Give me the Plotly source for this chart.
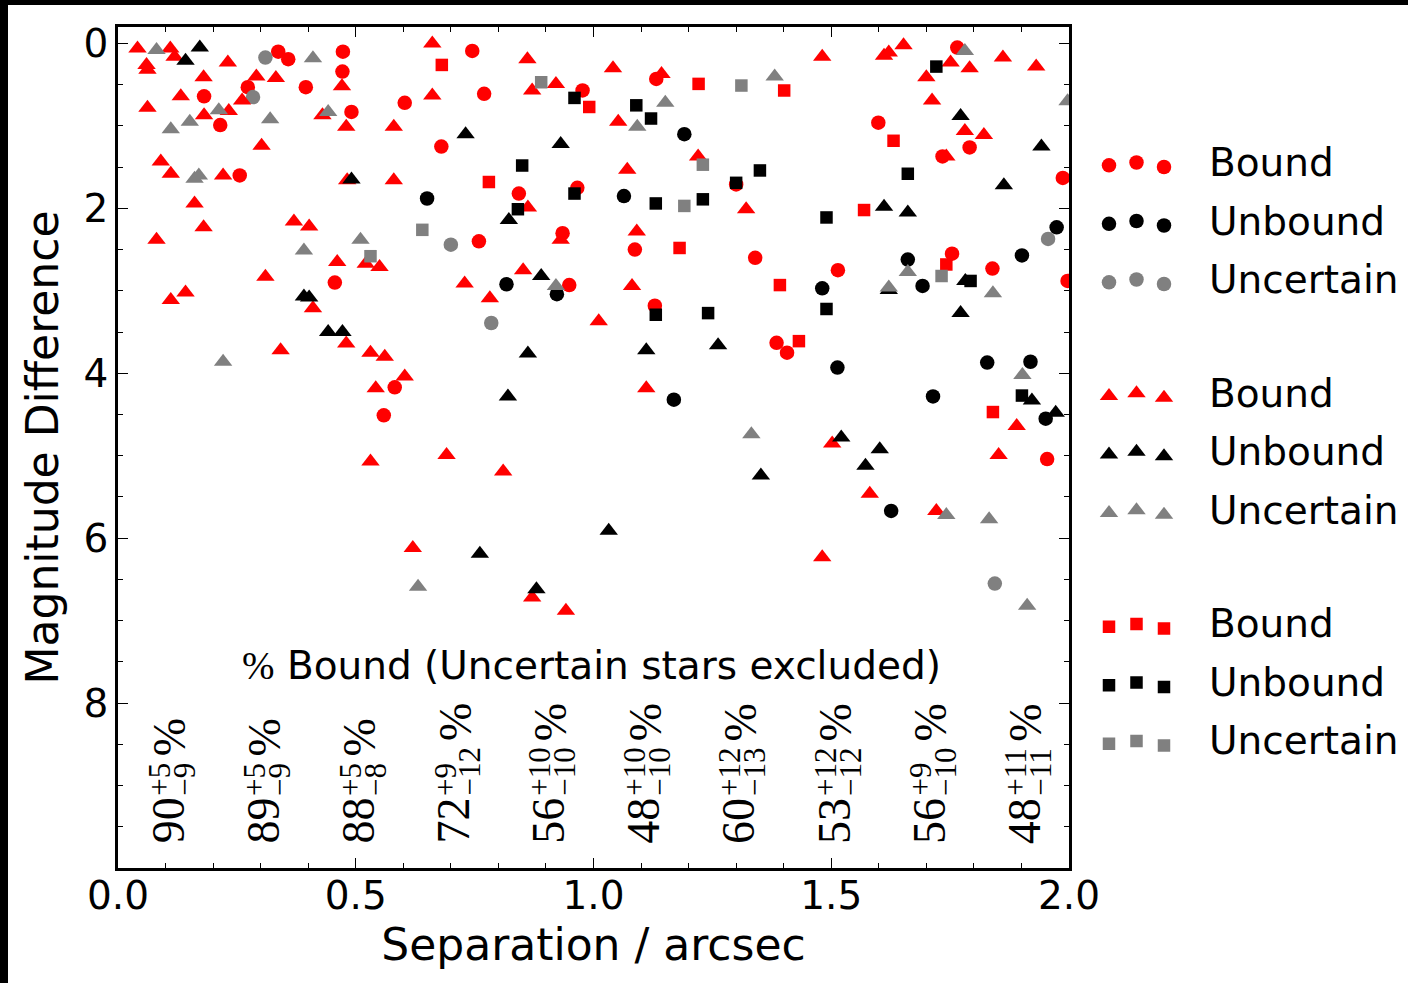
import plotly.graph_objects as go

# ---------------------------------------------------------------
# Companion stars: separation (arcsec) and magnitude difference,
# split by classification (Bound / Unbound / Uncertain) and by
# marker family (circles, triangles, squares).
# ---------------------------------------------------------------
circ_bound_sep = [0.337, 0.358, 0.273, 0.215, 0.395, 0.473, 0.472, 0.491, 0.181, 0.603,
                  0.680, 0.256, 0.456, 0.745, 0.770, 0.977, 1.132, 1.300, 0.966, 0.843,
                  0.759, 0.935, 1.087, 1.340, 1.514, 0.949, 1.129, 1.599, 1.765, 1.791,
                  1.734, 1.987, 1.754, 1.839, 1.997, 0.582, 0.559, 1.385, 1.407, 1.954]
circ_bound_dmag = [0.10, 0.19, 0.53, 0.99, 0.53, 0.10, 0.34, 0.83, 0.64, 0.72,
                   1.25, 1.60, 2.90, 0.09, 0.61, 0.57, 0.43, 1.71, 1.75, 1.82,
                   2.40, 2.30, 2.50, 2.60, 2.75, 2.93, 3.18, 0.96, 0.05, 1.26,
                   1.37, 1.63, 2.55, 2.73, 2.88, 4.17, 4.51, 3.63, 3.75, 5.04]

circ_unbound_sep = [0.650, 1.191, 1.064, 0.817, 0.923, 1.481, 1.661, 1.901, 1.974, 1.692,
                    1.513, 1.828, 1.919, 1.169, 1.714, 1.951, 1.626]
circ_unbound_dmag = [1.88, 1.10, 1.85, 2.92, 3.04, 2.97, 2.62, 2.57, 2.23, 2.94,
                     3.93, 3.87, 3.86, 4.32, 4.28, 4.55, 5.67]

circ_uncert_sep = [0.310, 0.284, 0.700, 0.785, 1.956, 1.844]
circ_uncert_dmag = [0.17, 0.65, 2.44, 3.39, 2.37, 6.55]

tri_bound_sep = [0.041, 0.060, 0.062, 0.110, 0.119, 0.231, 0.180, 0.062, 0.132, 0.181,
                 0.233, 0.261, 0.291, 0.332, 0.471, 0.430, 0.480, 0.302, 0.580, 0.661,
                 0.661, 0.090, 0.111, 0.221, 0.161, 0.180, 0.081, 0.370, 0.402, 0.461,
                 0.521, 0.550, 0.310, 0.482, 0.580, 0.729, 0.111, 0.142, 0.410, 0.480,
                 0.342, 0.531, 0.561, 0.603, 0.542, 0.531, 0.691, 0.810, 0.620, 0.871,
                 0.942, 0.861, 0.871, 0.921, 1.041, 1.143, 1.481, 1.052, 1.071, 1.220,
                 1.321, 0.862, 0.931, 1.091, 0.782, 0.852, 1.081, 1.011, 1.611, 1.621,
                 1.652, 1.751, 1.791, 1.700, 1.712, 1.861, 1.931, 1.781, 1.821, 1.742,
                 1.111, 1.890, 1.502, 1.852, 1.581, 1.721, 1.481]
tri_bound_dmag = [0.06, 0.26, 0.32, 0.06, 0.16, 0.23, 0.41, 0.78, 0.64, 0.87,
                  0.82, 0.69, 0.40, 0.42, 0.52, 0.87, 1.01, 1.24, 1.01, 0.00,
                  0.63, 1.43, 1.58, 1.60, 1.94, 2.23, 2.38, 2.16, 2.22, 2.65,
                  2.67, 2.71, 2.83, 1.66, 1.66, 2.91, 3.11, 3.02, 3.21, 3.64,
                  3.72, 3.75, 3.80, 4.04, 4.18, 5.07, 4.99, 5.19, 6.12, 6.72,
                  6.88, 0.19, 0.57, 0.49, 0.30, 0.37, 0.16, 0.95, 1.53, 1.37,
                  2.01, 1.99, 2.38, 2.28, 3.09, 2.75, 2.94, 3.37, 0.15, 0.11,
                  0.02, 0.23, 0.30, 0.41, 0.69, 0.17, 0.28, 1.06, 1.11, 1.37,
                  4.18, 4.64, 4.85, 4.99, 5.46, 5.67, 6.23]

tri_unbound_sep = [0.142, 0.172, 0.731, 0.491, 0.391, 0.402, 0.442, 0.472, 0.931, 0.822,
                   0.890, 0.862, 0.820, 0.761, 0.880, 1.032, 1.111, 1.262, 1.352, 1.772,
                   1.942, 1.863, 1.611, 1.661, 1.621, 1.782, 1.772, 1.922, 1.972, 1.521,
                   1.602, 1.572]
tri_unbound_dmag = [0.21, 0.05, 1.10, 1.65, 3.07, 3.08, 3.50, 3.50, 1.22, 2.14,
                    2.82, 3.76, 4.28, 6.19, 6.62, 5.91, 3.72, 3.66, 5.24, 0.88,
                    1.25, 1.72, 1.98, 2.05, 2.99, 2.88, 3.27, 4.33, 4.48, 4.78,
                    4.92, 5.12]

tri_uncert_sep = [0.081, 0.111, 0.151, 0.212, 0.161, 0.170, 0.410, 0.442, 0.320, 0.391,
                  0.510, 0.221, 0.631, 0.921, 1.151, 1.092, 1.381, 1.781, 1.997, 1.661,
                  1.621, 1.840, 1.332, 1.902, 1.742, 1.832, 1.912]
tri_uncert_dmag = [0.08, 1.04, 0.95, 0.81, 1.64, 1.60, 0.18, 0.83, 0.92, 2.51,
                   2.38, 3.86, 6.59, 2.94, 0.72, 1.01, 0.40, 0.09, 0.70, 2.77,
                   2.96, 3.03, 4.74, 4.02, 5.72, 5.77, 6.82]

sq_bound_sep = [0.681, 0.991, 1.221, 1.401, 0.780, 1.181, 1.392, 1.569, 1.631, 1.742,
                1.432, 1.840]
sq_bound_dmag = [0.26, 0.77, 0.49, 0.57, 1.68, 2.48, 2.93, 2.02, 1.18, 2.68,
                 3.61, 4.47]

sq_unbound_sep = [0.960, 1.090, 1.121, 0.850, 1.350, 1.300, 0.960, 1.131, 1.230, 1.490,
                  0.841, 1.490, 1.131, 1.241, 1.721, 1.661, 1.793, 1.901]
sq_unbound_dmag = [0.66, 0.75, 0.91, 1.48, 1.54, 1.69, 1.82, 1.94, 1.89, 2.11,
                   2.01, 3.22, 3.29, 3.27, 0.28, 1.58, 2.88, 4.27]

sq_uncert_sep = [0.890, 1.311, 1.230, 1.191, 0.640, 0.531, 1.732]
sq_uncert_dmag = [0.47, 0.51, 1.47, 1.97, 2.26, 2.58, 2.82]

# Bound fraction per 0.2" separation bin (uncertain stars excluded)
bin_centres = [0.1, 0.3, 0.5, 0.7, 0.9, 1.1, 1.3, 1.5, 1.7, 1.9]
bound_pct = [90, 89, 88, 72, 56, 48, 60, 53, 56, 48]
bound_err_up = [5, 5, 5, 9, 10, 10, 12, 12, 9, 11]
bound_err_lo = [9, 9, 8, 12, 10, 10, 13, 12, 10, 11]

status_labels = ["Bound", "Unbound", "Uncertain"]
status_colors = ["#ff0000", "#000000", "#808080"]
families = [
    ("circle", 14.5, [(circ_bound_sep, circ_bound_dmag),
                      (circ_unbound_sep, circ_unbound_dmag),
                      (circ_uncert_sep, circ_uncert_dmag)]),
    ("triangle-up", 16, [(tri_bound_sep, tri_bound_dmag),
                         (tri_unbound_sep, tri_unbound_dmag),
                         (tri_uncert_sep, tri_uncert_dmag)]),
    ("square", 12.5, [(sq_bound_sep, sq_bound_dmag),
                      (sq_unbound_sep, sq_unbound_dmag),
                      (sq_uncert_sep, sq_uncert_dmag)]),
]

# ---------------------------------------------------------------
# Page geometry (pixels)
# ---------------------------------------------------------------
W, H = 1408, 983
ML, MT, MB = 118, 27, 115
PLOT_W = W - ML
MAIN_RIGHT = 1069
LEG_DOMAIN0 = 0.74
LEG_X0 = ML + LEG_DOMAIN0 * PLOT_W

SANS = "DejaVu Sans"
SERIF = "Liberation Serif"

fig = go.Figure()

for symbol, size, groups in families:
    for (sep, dmag), label, color in zip(groups, status_labels, status_colors):
        fig.add_trace(go.Scatter(
            x=sep, y=dmag, mode="markers", name=label,
            marker=dict(symbol=symbol, size=size, color=color, line=dict(width=0)),
            showlegend=False, xaxis="x", yaxis="y",
            hovertemplate="%{x:.2f}\", Δm=%{y:.2f}<extra>" + label + "</extra>",
        ))

# ---------------------------------------------------------------
# Hand-built legend: three staggered markers per entry, drawn on a
# helper axis whose units are page pixels.
# ---------------------------------------------------------------
leg_marker_x = [1109, 1136.5, 1164]
leg_marker_dy = [2.8, 0.0, 4.5]
leg_row0 = 162.5
leg_row_step = 58.5
leg_group_step = 230.7
leg_text_x = 1207

annotations = []
for g, (symbol, size, _) in enumerate(families):
    for r, (label, color) in enumerate(zip(status_labels, status_colors)):
        yc = leg_row0 + g * leg_group_step + r * leg_row_step
        fig.add_trace(go.Scatter(
            x=leg_marker_x, y=[yc + d for d in leg_marker_dy],
            mode="markers", showlegend=False, hoverinfo="skip",
            marker=dict(symbol=symbol, size=size, color=color, line=dict(width=0)),
            xaxis="x2", yaxis="y2",
        ))
        annotations.append(dict(
            x=leg_text_x, y=yc, xref="x2", yref="y2", text=label,
            showarrow=False, xanchor="left", yanchor="middle",
            font=dict(family=SANS, size=39, color="black"),
        ))

# ---------------------------------------------------------------
# Rotated "percent bound" labels with stacked super/subscripts
# ---------------------------------------------------------------
F_MAIN = 46
F_SCRIPT = 31
Y_BASE = 9.73


def digit_len(s, size):
    return 0.5 * size * len(s)


for xc, pct, up, lo in zip(bin_centres, bound_pct, bound_err_up, bound_err_lo):
    main = str(pct)
    sup = "+" + str(up)
    sub = "\u2212" + str(lo)
    main_len = digit_len(main, F_MAIN)
    sup_len = 0.564 * F_SCRIPT + digit_len(str(up), F_SCRIPT)
    sub_len = 0.564 * F_SCRIPT + digit_len(str(lo), F_SCRIPT)
    script_shift = main_len + 2
    pct_shift = script_shift + max(sup_len, sub_len) + 6
    common = dict(x=xc, y=Y_BASE, xref="x", yref="y", showarrow=False,
                  textangle=-90, xanchor="center", yanchor="bottom")
    annotations.append(dict(common, text=main, xshift=3,
                            font=dict(family=SERIF, size=F_MAIN, color="black")))
    annotations.append(dict(common, text=sup, xshift=-6, yshift=script_shift,
                            font=dict(family=SERIF, size=F_SCRIPT, color="black")))
    annotations.append(dict(common, text=sub, xshift=19, yshift=script_shift,
                            font=dict(family=SERIF, size=F_SCRIPT, color="black")))
    annotations.append(dict(common, text="%", xshift=4, yshift=pct_shift,
                            font=dict(family=SERIF, size=F_MAIN, color="black")))

annotations.append(dict(
    x=0.995, y=7.54, xref="x", yref="y", showarrow=False,
    xanchor="center", yanchor="middle",
    text='<span style="font-family:Liberation Serif">%</span> Bound (Uncertain stars excluded)',
    font=dict(family=SANS, size=39, color="black"),
))

# ---------------------------------------------------------------
# Axes (fixed margins: no automatic margin growth)
# ---------------------------------------------------------------
axis_style = dict(
    showline=True, linecolor="black", linewidth=2.5, mirror="allticks",
    ticks="inside", ticklen=10, tickwidth=1.3, tickcolor="black",
    showgrid=False, zeroline=False, automargin=False,
    tickfont=dict(family=SANS, size=39, color="black"),
)

x_major = [0.0, 0.5, 1.0, 1.5, 2.0]
x_minor = [round(0.1 * i, 1) for i in range(21)]
y_major = [0, 2, 4, 6, 8]
y_minor = [0.5 * i for i in range(21)]

fig.update_layout(
    template="none",
    width=W, height=H, autosize=False,
    margin=dict(l=ML, r=0, t=MT, b=MB, pad=0),
    paper_bgcolor="white", plot_bgcolor="white",
    font=dict(family=SANS, color="black"),
    showlegend=False,
    xaxis=dict(
        axis_style, domain=[0, (MAIN_RIGHT - ML) / PLOT_W], range=[0, 2],
        tickvals=x_major, ticktext=["%.1f" % v for v in x_major],
        minor=dict(ticks="inside", ticklen=5, tickwidth=1.3, tickcolor="black",
                   tickvals=x_minor, showgrid=False),
        ticklabelstandoff=-9,
        title=dict(text="Separation / arcsec", standoff=13,
                   font=dict(family=SANS, size=44, color="black")),
        anchor="y",
    ),
    yaxis=dict(
        axis_style, domain=[0, 1], range=[10, -0.2],
        tickvals=y_major, ticktext=[str(v) for v in y_major],
        minor=dict(ticks="inside", ticklen=5, tickwidth=1.3, tickcolor="black",
                   tickvals=y_minor, showgrid=False),
        ticklabelstandoff=-1,
        title=dict(text="Magnitude Difference", standoff=12,
                   font=dict(family=SANS, size=44, color="black")),
        anchor="x",
    ),
    xaxis2=dict(domain=[LEG_DOMAIN0, 1], range=[LEG_X0, W], visible=False,
                automargin=False, anchor="y2", fixedrange=True),
    yaxis2=dict(domain=[0, 1], range=[H - MB, MT], visible=False,
                automargin=False, anchor="x2", fixedrange=True),
    annotations=annotations,
    shapes=[
        # dark band along the top and left edges of the page
        dict(type="rect", xref="paper", yref="paper",
             x0=-ML / PLOT_W, x1=1, y0=1 + (MT - 5) / (H - MT - MB),
             y1=1 + MT / (H - MT - MB), fillcolor="black", line=dict(width=0)),
        dict(type="rect", xref="paper", yref="paper",
             x0=-ML / PLOT_W, x1=(8 - ML) / PLOT_W, y0=-MB / (H - MT - MB),
             y1=1 + MT / (H - MT - MB), fillcolor="black", line=dict(width=0)),
    ],
)

fig.write_html("out.html", config={"responsive": False})
